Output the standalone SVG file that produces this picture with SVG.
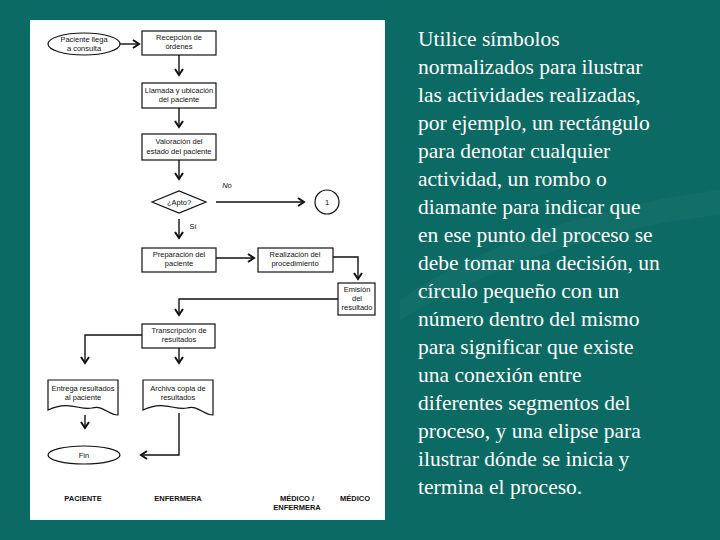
<svg xmlns="http://www.w3.org/2000/svg" width="720" height="540" viewBox="0 0 720 540">
<defs>
<style>
.s{fill:#fff;stroke:#111;stroke-width:1.2}
.c{fill:none;stroke:#111;stroke-width:1.4}
.t{font-family:"Liberation Sans",Arial,sans-serif;font-size:7.5px;fill:#111;text-anchor:middle}
.b{font-family:"Liberation Sans",Arial,sans-serif;font-size:7.5px;font-weight:bold;fill:#111;text-anchor:middle}
.r{font-family:"Liberation Serif","Times New Roman",serif;font-size:21.5px;fill:#fff}
</style>
<marker id="a" markerWidth="10" markerHeight="10" refX="8" refY="5" orient="auto" markerUnits="userSpaceOnUse">
<path d="M2,1 L8,5 L2,9" fill="none" stroke="#111" stroke-width="2"/>
</marker>
</defs>
<rect width="720" height="540" fill="#0b6a63"/>
<path d="M400,300 C500,230 640,200 720,190 L720,215 C620,225 500,260 400,320 Z" fill="#2a8880" opacity="0.18"/>
<rect x="30" y="20" width="355" height="500" fill="#fff"/>
<g id="connectors" class="c">
<line x1="120" y1="44" x2="139" y2="44" marker-end="url(#a)"/>
<line x1="179" y1="55" x2="179" y2="75" marker-end="url(#a)"/>
<line x1="179" y1="108" x2="179" y2="127" marker-end="url(#a)"/>
<line x1="179" y1="160" x2="179" y2="179" marker-end="url(#a)"/>
<line x1="216" y1="202" x2="304" y2="202" marker-end="url(#a)"/>
<line x1="179" y1="219" x2="179" y2="238" marker-end="url(#a)"/>
<line x1="216" y1="258" x2="254" y2="258" marker-end="url(#a)"/>
<polyline points="333,257 358,257 358,279" marker-end="url(#a)"/>
<polyline points="338,299 179,299 179,315" marker-end="url(#a)"/>
<polyline points="142,335 85,335 85,363" marker-end="url(#a)"/>
<line x1="179" y1="348" x2="179" y2="363" marker-end="url(#a)"/>
<line x1="85" y1="415" x2="85" y2="428" marker-end="url(#a)"/>
<polyline points="179,413 179,455 141,455" marker-end="url(#a)"/>
</g>
<g id="inicio"><ellipse class="s" cx="84" cy="44" rx="36" ry="11"/><text class="t" x="84" y="42">Paciente llega</text><text class="t" x="84" y="51">a consulta</text></g>
<g id="recepcion"><rect class="s" x="142" y="31" width="74" height="24"/><text class="t" x="179" y="40">Recepción de</text><text class="t" x="179" y="49">órdenes</text></g>
<g id="llamada"><rect class="s" x="142" y="83" width="74" height="25"/><text class="t" x="179" y="93">Llamada y ubicación</text><text class="t" x="179" y="102">del paciente</text></g>
<g id="valoracion"><rect class="s" x="142" y="134" width="74" height="26"/><text class="t" x="179" y="144">Valoración del</text><text class="t" x="179" y="154">estado del paciente</text></g>
<g id="apto"><polygon class="s" points="152,202 179,191 206,202 179,213"/><text class="t" x="179" y="205">¿Apto?</text><text class="t" x="227" y="188" font-style="italic">No</text><text class="t" x="193" y="229">Sí</text></g>
<g id="conector1"><circle class="s" cx="327" cy="202" r="12"/><text class="t" x="327" y="205">1</text></g>
<g id="preparacion"><rect class="s" x="142" y="248" width="74" height="24"/><text class="t" x="179" y="257">Preparación del</text><text class="t" x="179" y="266">paciente</text></g>
<g id="realizacion"><rect class="s" x="258" y="248" width="75" height="24"/><text class="t" x="295" y="257">Realización del</text><text class="t" x="295" y="266">procedimiento</text></g>
<g id="emision"><rect class="s" x="338" y="283" width="37" height="32"/><text class="t" x="357" y="292">Emisión</text><text class="t" x="357" y="301">del</text><text class="t" x="357" y="310">resultado</text></g>
<g id="transcripcion"><rect class="s" x="142" y="324" width="73" height="24"/><text class="t" x="179" y="333">Transcripción de</text><text class="t" x="179" y="342">resultados</text></g>
<g id="entrega"><path class="s" d="M48,380 H118 V415 C108,415 104,405 92,408 C80,411 70,400 48,410 Z"/><text class="t" x="83" y="391">Entrega resultados</text><text class="t" x="83" y="400">al paciente</text></g>
<g id="archiva"><path class="s" d="M143,380 H213 V415 C203,415 199,405 187,408 C175,411 165,400 143,410 Z"/><text class="t" x="178" y="391">Archiva copia de</text><text class="t" x="178" y="400">resultados</text></g>
<g id="fin"><ellipse class="s" cx="84" cy="455" rx="36" ry="9"/><text class="t" x="84" y="458">Fin</text></g>
<g id="carriles">
<text class="b" x="83" y="501">PACIENTE</text>
<text class="b" x="178" y="501">ENFERMERA</text>
<text class="b" x="297" y="501">MÉDICO /</text>
<text class="b" x="297" y="510">ENFERMERA</text>
<text class="b" x="355" y="501">MÉDICO</text>
</g>
<g id="texto" class="r">
<text x="418" y="46">Utilice símbolos</text>
<text x="418" y="74">normalizados para ilustrar</text>
<text x="418" y="102">las actividades realizadas,</text>
<text x="418" y="130">por ejemplo, un rectángulo</text>
<text x="418" y="158">para denotar cualquier</text>
<text x="418" y="186">actividad, un rombo o</text>
<text x="418" y="214">diamante para indicar que</text>
<text x="418" y="242">en ese punto del proceso se</text>
<text x="418" y="270">debe tomar una decisión, un</text>
<text x="418" y="298">círculo pequeño con un</text>
<text x="418" y="326">número dentro del mismo</text>
<text x="418" y="354">para significar que existe</text>
<text x="418" y="382">una conexión entre</text>
<text x="418" y="410">diferentes segmentos del</text>
<text x="418" y="438">proceso, y una elipse para</text>
<text x="418" y="466">ilustrar dónde se inicia y</text>
<text x="418" y="494">termina el proceso.</text>
</g>
</svg>
